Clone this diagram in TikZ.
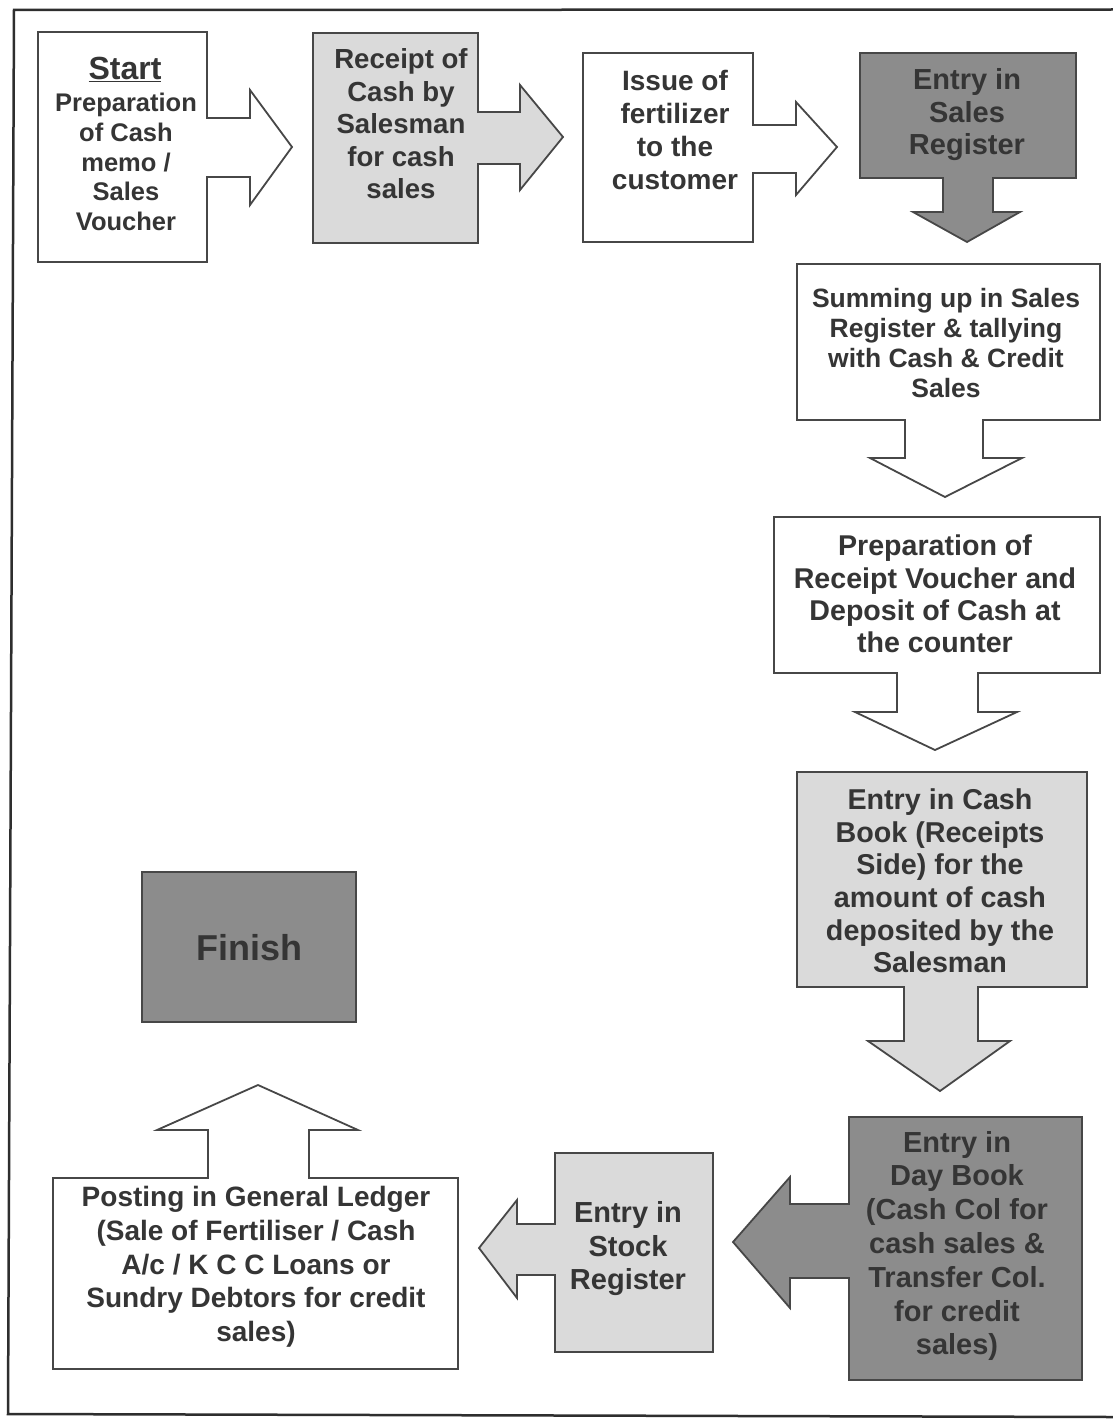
\documentclass[tikz,border=0pt]{standalone}
\usepackage{fontspec}
\setmainfont{Liberation Sans}
\definecolor{linec}{HTML}{474747}
\definecolor{lightg}{HTML}{DADADA}
\definecolor{darkg}{HTML}{8C8C8C}
\definecolor{textc}{HTML}{353535}
\definecolor{framec}{HTML}{2E2E2E}
\newcommand\fsz[2]{\fontsize{#1}{#2}\selectfont\bfseries}
\begin{document}
\begin{tikzpicture}[x=1pt,y=-1pt,
  shp/.style={draw=linec, line width=1.8pt, line join=miter},
  whitebox/.style={shp, fill=white},
  lightbox/.style={shp, fill=lightg},
  darkbox/.style={shp, fill=darkg},
  txt/.style={align=center, text=textc, inner sep=0pt}]
\useasboundingbox (0,0) rectangle (1113,1421);
\fill[white] (0,0) rectangle (1113,1421);
% frame
\draw[framec, line width=2.5pt] (1113,9.5) -- (14,10) -- (8,1414) -- (1113,1417);

% 1 Start
\draw[whitebox] (38,32) -- (207,32) -- (207,118) -- (250,118) -- (250,90) -- (292,147) -- (250,205) -- (250,177) -- (207,177) -- (207,262) -- (38,262) -- cycle;
% 2 Receipt
\draw[lightbox] (313,33) -- (478,33) -- (478,112) -- (520,112) -- (520,85) -- (563,137) -- (520,190) -- (520,164) -- (478,164) -- (478,243) -- (313,243) -- cycle;
% 3 Issue
\draw[whitebox] (583,53) -- (753,53) -- (753,125) -- (796,125) -- (796,102) -- (837,147) -- (796,195) -- (796,173) -- (753,173) -- (753,242) -- (583,242) -- cycle;
% 4 Sales register
\draw[darkbox] (860,53) -- (1076,53) -- (1076,178) -- (993,178) -- (993,212) -- (1020,212) -- (967,242) -- (913,212) -- (943,212) -- (943,178) -- (860,178) -- cycle;
% 5 Summing
\draw[whitebox] (797,264) -- (1100,264) -- (1100,420) -- (983,420) -- (983,458) -- (1022,458) -- (945,497) -- (870,458) -- (905,458) -- (905,420) -- (797,420) -- cycle;
% 6 Preparation of receipt voucher
\draw[whitebox] (774,517) -- (1100,517) -- (1100,673) -- (978,673) -- (978,712) -- (1017,712) -- (935,750) -- (855,712) -- (897,712) -- (897,673) -- (774,673) -- cycle;
% 7 Cash book
\draw[lightbox] (797,772) -- (1087,772) -- (1087,987) -- (978,987) -- (978,1041) -- (1010,1041) -- (940,1091) -- (868,1041) -- (904,1041) -- (904,987) -- (797,987) -- cycle;
% 8 Day book
\draw[darkbox] (849,1117) -- (1082,1117) -- (1082,1380) -- (849,1380) -- (849,1278) -- (790,1278) -- (790,1308) -- (733,1242) -- (790,1177) -- (790,1204) -- (849,1204) -- cycle;
% 9 Stock register
\draw[lightbox] (555,1153) -- (713,1153) -- (713,1352) -- (555,1352) -- (555,1275) -- (517,1275) -- (517,1298) -- (479,1248) -- (517,1200) -- (517,1224) -- (555,1224) -- cycle;
% 10 Posting
\draw[whitebox] (53,1178) -- (208,1178) -- (208,1130) -- (157,1130) -- (258,1085) -- (358,1130) -- (309,1130) -- (309,1178) -- (458,1178) -- (458,1369) -- (53,1369) -- cycle;
% Finish
\draw[darkbox] (142,872) rectangle (356,1022);

% texts
\node[txt, font=\fsz{32}{36}] (start) at (125,69) {\underline{Start}};
\node[txt, font=\fsz{25.5}{29.6}] (t1) at (126,162) {Preparation\\of Cash\\memo /\\Sales\\Voucher};
\node[txt, font=\fsz{27.6}{32.5}] (t2) at (401,124) {Receipt of\\Cash by\\Salesman\\for cash\\sales};
\node[txt, font=\fsz{28}{32.7}] (t3) at (675,130) {Issue of\\fertilizer\\to the\\customer};
\node[txt, font=\fsz{29}{32.5}] (t4) at (967,115) {Entry in\\Sales\\Register};
\node[txt, font=\fsz{26.5}{29.7}] (t5) at (946,343) {Summing up in Sales\\Register \& tallying\\with Cash \& Credit\\Sales};
\node[txt, font=\fsz{28.6}{32.3}] (t6) at (935,594) {Preparation of\\Receipt Voucher and\\Deposit of Cash at\\the counter};
\node[txt, font=\fsz{28.7}{32.6}] (t7) at (940,881) {Entry in Cash\\Book (Receipts\\Side) for the\\amount of cash\\deposited by the\\Salesman};
\node[txt, font=\fsz{29}{33.8}] (t8) at (957,1246) {Entry in\\Day Book\\(Cash Col for\\cash sales \&\\Transfer Col.\\for credit\\sales)};
\node[txt, font=\fsz{29}{33.5}] (t9) at (628,1249) {Entry in\\Stock\\Register};
\node[txt, font=\fsz{28}{33.7}] (t10) at (256,1267) {Posting in General Ledger\\(Sale of Fertiliser / Cash\\A/c / K C C Loans or\\Sundry Debtors for credit\\sales)};
\node[txt, font=\fsz{36}{40}] (fin) at (249,948) {Finish};
\end{tikzpicture}
\end{document}
